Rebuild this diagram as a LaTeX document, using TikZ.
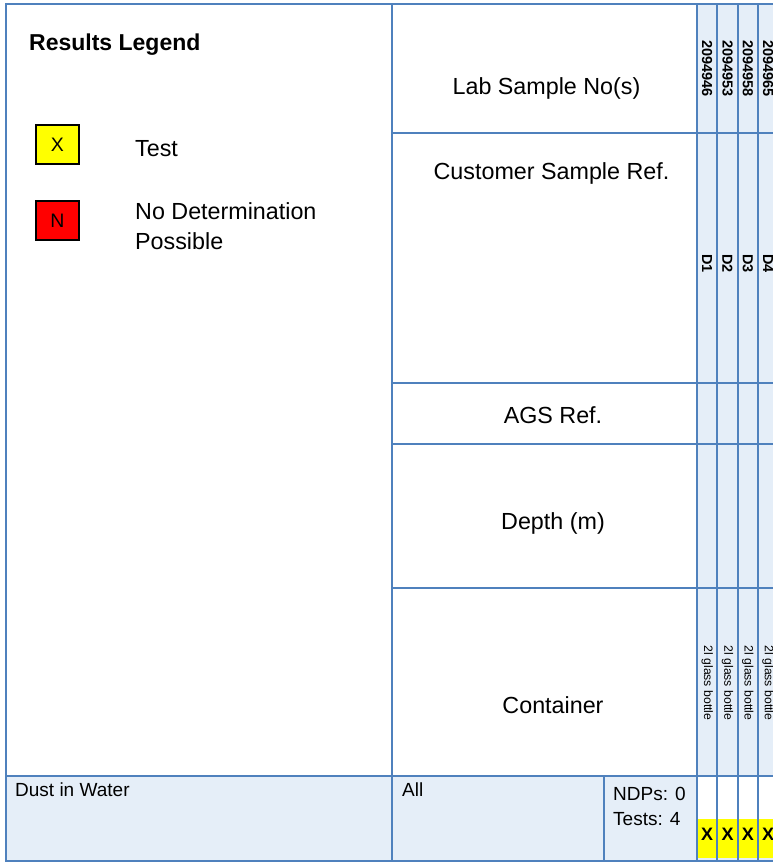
\documentclass[tikz,border=0pt]{standalone}
\usepackage{fontspec}
\setmainfont{Liberation Sans}
\definecolor{lineblue}{HTML}{4F81BD}
\definecolor{cellblue}{HTML}{E5EEF8}
\definecolor{testyellow}{HTML}{FFFF00}
\definecolor{ndpred}{HTML}{FF0000}
\begin{document}
\begin{tikzpicture}[x=1pt,y=-1pt,
  frame/.style={draw=lineblue, line width=2pt},
  bluecell/.style={frame, fill=cellblue},
  whitecell/.style={frame, fill=white},
  big/.style={font=\fontsize{23.3}{27}\selectfont, inner sep=0pt},
  mid/.style={font=\fontsize{19}{25}\selectfont, inner sep=0pt, anchor=west},
  vnum/.style={font=\fontsize{14.5}{16}\selectfont\bfseries, rotate=-90, anchor=west, inner sep=0pt},
  vcont/.style={font=\fontsize{12.2}{14}\selectfont, rotate=-90, anchor=west, inner sep=0pt},
  legbox/.style={draw=black, line width=1.3pt, minimum width=43pt, minimum height=39pt, inner sep=0pt, font=\fontsize{19.5}{22}\selectfont},
  xmark/.style={font=\fontsize{18}{20}\selectfont\bfseries, inner sep=0pt}
]
\useasboundingbox (0,0) rectangle (773,863);
\fill[white] (0,0) rectangle (773,863);
% left legend panel
\draw[whitecell] (6,4) rectangle (392,776);
% middle header cells
\draw[whitecell] (392,4) rectangle (697,133);
\draw[whitecell] (392,133) rectangle (697,383);
\draw[whitecell] (392,383) rectangle (697,444);
\draw[whitecell] (392,444) rectangle (697,588);
\draw[whitecell] (392,588) rectangle (697,776);
% sample columns
\foreach \a/\b in {697/717.3, 717.3/737.7, 737.7/758, 758/778.3}{
  \foreach \t/\u in {4/133, 133/383, 383/444, 444/588, 588/776}{
    \draw[bluecell] (\a,\t) rectangle (\b,\u);
  }
  \draw[bluecell] (\a,776) rectangle (\b,861);
  \fill[white] ([xshift=1pt]\a,777) rectangle ([xshift=-1pt]\b,819);
  \fill[testyellow] ([xshift=1pt]\a,819) rectangle ([xshift=-1pt]\b,858);
}
% bottom row
\draw[bluecell] (6,776) rectangle (392,861);
\draw[bluecell] (392,776) rectangle (604,861);
\draw[bluecell] (604,776) rectangle (697,861);

% legend
\node[big, font=\fontsize{23}{27}\selectfont\bfseries, anchor=west] (legtitle) at (29,45) {Results Legend};
\node[legbox, fill=testyellow] (legx) at (57.5,144.5) {X};
\node[big, anchor=west] (legtest) at (135,149) {Test};
\node[legbox, fill=ndpred] (legn) at (57.5,220.5) {N};
\node[big, anchor=west, align=left, font=\fontsize{23.3}{30}\selectfont] (legndp) at (135,226.5) {No Determination\\Possible};

% header labels
\node[big] (labno) at (546.5,88.5) {Lab Sample No(s)};
\node[big] (custref) at (551.5,173.5) {Customer Sample Ref.};
\node[big] (agsref) at (553,415.5) {AGS Ref.};
\node[big] (depth) at (553,523.5) {Depth (m)};
\node[big] (container) at (553,705.5) {Container};

% vertical column texts
\node[vnum] (n1) at (707.2,40) {2094946};
\node[vnum] (n2) at (727.5,40) {2094953};
\node[vnum] (n3) at (747.8,40) {2094958};
\node[vnum] (n4) at (768.1,40) {2094965};
\node[vnum] (d1) at (707.2,254) {D1};
\node[vnum] (d2) at (727.5,254) {D2};
\node[vnum] (d3) at (747.8,254) {D3};
\node[vnum] (d4) at (768.1,254) {D4};
\node[vcont] (c1) at (707.2,645.5) {2l glass bottle};
\node[vcont] (c2) at (727.5,645.5) {2l glass bottle};
\node[vcont] (c3) at (747.8,645.5) {2l glass bottle};
\node[vcont] (c4) at (768.1,645.5) {2l glass bottle};

% bottom row texts
\node[mid] (dust) at (15,790) {Dust in Water};
\node[mid] (all) at (402,790) {All};
\node[mid] (ndps) at (613,794) {NDPs: 0};
\node[mid] (tests) at (613,819) {Tests: 4};
\node[xmark] (x1) at (707.2,834) {X};
\node[xmark] (x2) at (727.5,834) {X};
\node[xmark] (x3) at (747.8,834) {X};
\node[xmark] (x4) at (768.1,834) {X};
\end{tikzpicture}
\end{document}
